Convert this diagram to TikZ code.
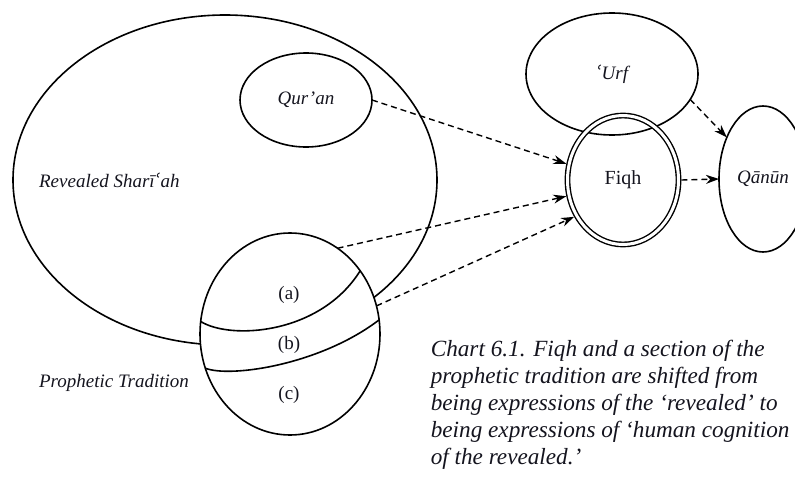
\documentclass[tikz,border=0pt]{standalone}
\usepackage{fontspec}
\setmainfont{Liberation Serif}
\newfontfamily\aynfont{DejaVu Serif}
\usetikzlibrary{arrows.meta,shapes.geometric}
\newcommand{\aynmark}{{\aynfont\itshape ʿ}}
\definecolor{ink}{RGB}{20,20,30}
\begin{document}
\begin{tikzpicture}[x=1pt,y=-1pt, line width=1.6pt,
  oval/.style={draw, ellipse, inner sep=0pt, outer sep=0pt},
  lbl/.style={font=\fontsize{19}{22}\selectfont\itshape, text=ink},
  part/.style={font=\fontsize{19}{22}\selectfont, text=ink},
  dasharrow/.style={dash pattern=on 6pt off 4pt, line width=1.4pt, -{Stealth[length=13pt,width=9pt]}}]
\useasboundingbox (0,0) rectangle (795,479);
% Revealed Shari'ah
\node[oval, minimum width=424pt, minimum height=330pt] (shariah) at (225,180) {};
\node[lbl, anchor=west] (shlabel) at (35,180) {Revealed Sharī\aynmark{}ah};
% Qur'an
\node[oval, lbl, minimum width=132pt, minimum height=94pt] (quran) at (306,100) {Qur’an};
% Prophetic tradition
\node[oval, fill=white, minimum width=180pt, minimum height=202pt] (tradition) at (290,334) {};
\draw (tradition.172) .. controls (230,340) and (320,335) .. (tradition.42);
\draw (tradition.202) .. controls (230,378) and (320,365) .. (tradition.9);
\node[part] (pa) at (289,295) {(a)};
\node[part] (pb) at (289,345) {(b)};
\node[part] (pc) at (289,395) {(c)};
\node[lbl, anchor=west] (ptlabel) at (35,383) {Prophetic Tradition};
% Urf
\node[oval, lbl, minimum width=172pt, minimum height=122pt] (urf) at (612,74) {\aynmark{}Urf};
% Fiqh
\node[oval, double, double distance=3pt, line width=1.4pt, outer sep=2.9pt,
      minimum width=111pt, minimum height=129pt, part, font=\fontsize{20}{22}\selectfont] (fiqh) at (623,180) {Fiqh};
% Qanun
\node[oval, lbl, minimum width=88pt, minimum height=146pt] (qanun) at (763,179) {Qānūn};
% arrows
\draw[dasharrow] (quran.0) -- (fiqh.164);
\draw[dasharrow] (tradition.61) -- (fiqh.196);
\draw[dasharrow] (tradition.18) -- (fiqh.217);
\draw[dasharrow] (urf.342) -- (qanun.131);
\draw[dasharrow] (fiqh.east) -- (qanun.west);
% caption
\node[anchor=north west, align=left, inner sep=0pt, text=ink,
      font=\fontsize{23.2}{27}\selectfont\itshape] (caption) at (430,339)
  {Chart 6.1. Fiqh and a section of the\\
   prophetic tradition are shifted from\\
   being expressions of the ‘revealed’ to\\
   being expressions of ‘human cognition\\
   of the revealed.’};
\end{tikzpicture}
\end{document}
